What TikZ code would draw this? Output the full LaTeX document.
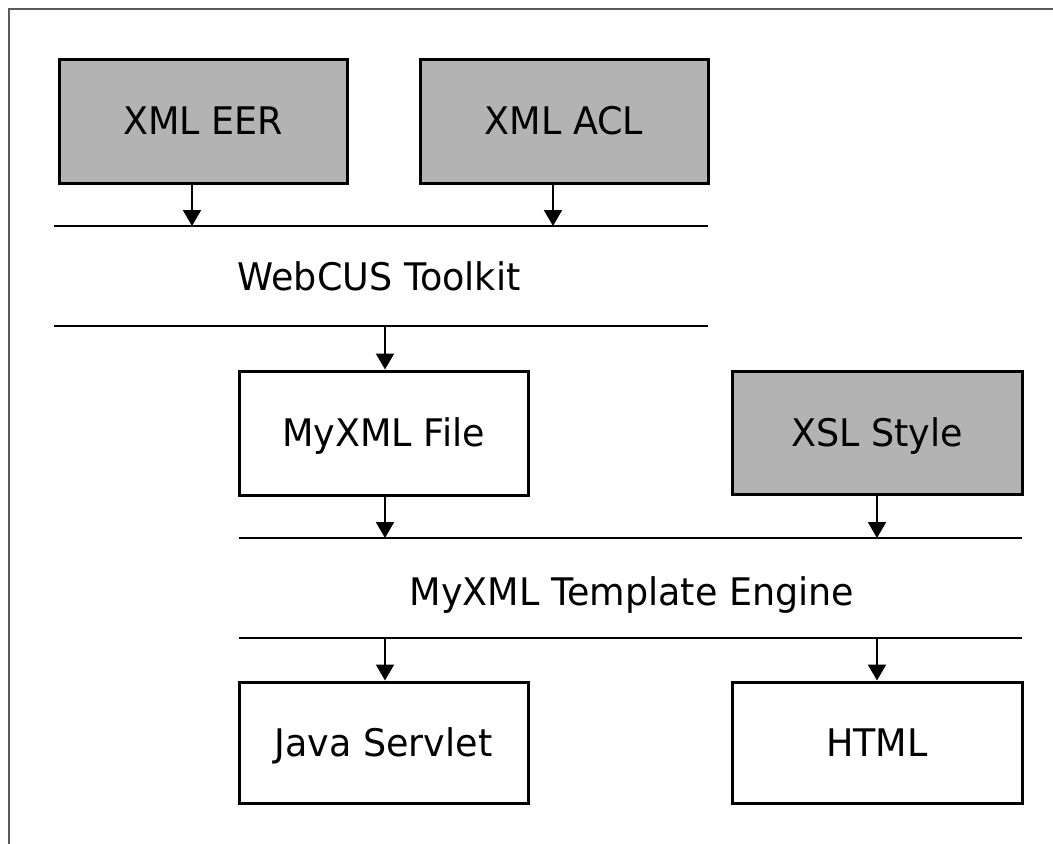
\documentclass[tikz,border=0pt]{standalone}
\usepackage{fontspec}
\setmainfont{DejaVu Sans}[FakeStretch=0.96]
\usetikzlibrary{arrows.meta}
\definecolor{boxgray}{RGB}{179,179,179}
\definecolor{framegray}{RGB}{90,90,90}
\tikzset{
  txt/.style={font=\fontsize{38}{42}\selectfont, text height=27.7pt, text depth=0pt},
  blk/.style={draw=black, line width=3pt, minimum width=#1, minimum height=124pt, inner sep=0pt, txt},
  blk/.default=288pt,
  shaded/.style={fill=boxgray},
  plain/.style={fill=white},
  bus/.style={line width=2.5pt},
  arr/.style={line width=2pt, -{Triangle[width=18pt,length=16pt]}},
  lbl/.style={txt, inner sep=0pt}
}
\begin{document}
\begin{tikzpicture}[x=1pt,y=-1pt]
\useasboundingbox (0,0) rectangle (1053,844);
% frame
\draw[framegray, line width=2pt] (9,844) -- (9,9) -- (1053,9);
% boxes
\node[blk, shaded] (eer) at (203,121) {XML EER};
\node[blk, shaded] (acl) at (564,121) {XML ACL};
\node[blk=289pt, plain] (myxml) at (383.5,433) {MyXML File};
\node[blk=290pt, shaded, minimum height=123pt] (xsl) at (877,432.5) {XSL Style};
\node[blk=289pt, plain, minimum height=121pt] (java) at (383.5,742.5) {Java Servlet};
\node[blk=290pt, plain, minimum height=121pt] (html) at (877,742.5) {HTML};
% bus lines
\coordinate (b1l) at (54,226);  \coordinate (b1r) at (708,226);
\coordinate (b2l) at (54,326);  \coordinate (b2r) at (708,326);
\coordinate (b3l) at (239,538); \coordinate (b3r) at (1022,538);
\coordinate (b4l) at (239,638); \coordinate (b4r) at (1022,638);
\draw[bus] (b1l) -- (b1r);
\draw[bus] (b2l) -- (b2r);
\draw[bus] (b3l) -- (b3r);
\draw[bus] (b4l) -- (b4r);
% labels
\node[lbl] (tk) at (379,277) {WebCUS Toolkit};
\node[lbl] (te) at (632,592) {MyXML Template Engine};
% arrow targets
\coordinate (t1) at (192,226);
\coordinate (t2) at (553,226);
\coordinate (s3) at (385,326);
\coordinate (t4) at (385,538);
\coordinate (t5) at (877,538);
\coordinate (s6) at (385,638);
\coordinate (s7) at (877,638);
% arrows
\draw[arr] (eer.south -| t1) -- (t1);
\draw[arr] (acl.south -| t2) -- (t2);
\draw[arr] (s3) -- (myxml.north -| s3);
\draw[arr] (myxml.south -| t4) -- (t4);
\draw[arr] (xsl.south) -- (t5);
\draw[arr] (s6) -- (java.north -| s6);
\draw[arr] (s7) -- (html.north -| s7);
\end{tikzpicture}
\end{document}
